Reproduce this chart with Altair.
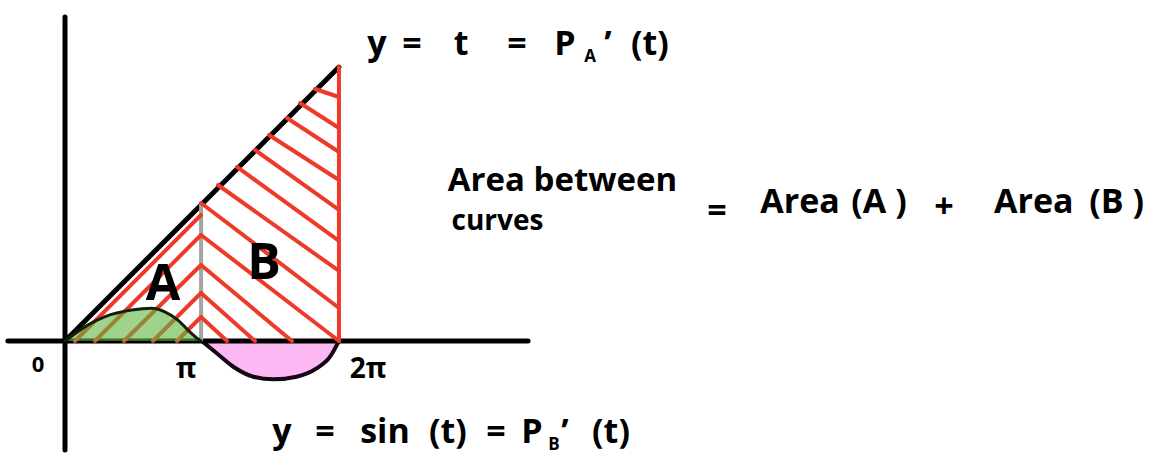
import altair as alt
import pandas as pd

# Page geometry: pixels per unit on both axes and where the origin sits
W, H = 1157, 468
PX_PER_UNIT = 43.6
ORIGIN_X, ORIGIN_Y = 65, 341
T_DOMAIN = [-ORIGIN_X / PX_PER_UNIT, (W - ORIGIN_X) / PX_PER_UNIT]
Y_DOMAIN = [(ORIGIN_Y - H) / PX_PER_UNIT, ORIGIN_Y / PX_PER_UNIT]

PI = 3.14159
TWO_PI = 6.28319

# Coordinate axes (horizontal, vertical)
axis_t0 = [-1.31, 0.0]
axis_y0 = [0.0, 7.43]
axis_t1 = [10.62, 0.0]
axis_y1 = [0.0, -2.50]

# The line y = t from 0 to 2*pi
diag_t0, diag_y0, diag_t1, diag_y1 = [0.0], [0.0], [TWO_PI], [TWO_PI]

# Hatching: region B (down-right strokes) then region A (up-right strokes)
hatch_t0 = [5.734, 5.390, 5.092, 4.679, 4.358, 3.945, 3.509, 3.119,
            3.119, 3.119, 3.119, 3.119,
            0.229, 0.688, 1.353, 2.018, 2.569]
hatch_y0 = [5.780, 5.459, 5.115, 4.725, 4.381, 3.991, 3.578, 3.165,
            2.431, 1.743, 1.101, 0.550,
            0.0, 0.0, 0.0, 0.0, 0.0]
hatch_t1 = [6.284, 6.284, 6.284, 6.284, 6.284, 6.284, 6.284, 6.284,
            6.284, 5.206, 4.358, 3.716,
            3.119, 3.119, 3.119, 3.119, 3.119]
hatch_y1 = [5.596, 4.885, 4.335, 3.693, 3.005, 2.294, 1.606, 0.757,
            0.0, 0.0, 0.0, 0.0,
            2.890, 2.431, 1.743, 1.101, 0.550]

# Green hump of sin(t) on [0, pi]
hump_t = [0.0, 0.53, 0.92, 1.53, 1.99, 2.29, 2.59, 2.82, 3.02, 3.12]
hump_y = [0.0, 0.37, 0.56, 0.71, 0.75, 0.67, 0.48, 0.25, 0.07, 0.0]

# Pink dip of sin(t) on [pi, 2*pi]
dip_t = [3.14, 3.48, 3.86, 4.32, 4.78, 5.31, 5.77, 6.08, 6.28]
dip_y = [0.0, -0.28, -0.59, -0.82, -0.88, -0.82, -0.63, -0.36, 0.0]

# Text tokens: string, centre t, baseline y, font size
label_text = ["y", "=", "t", "=", "P", "A", "\u2019", "(t)",
              "y", "=", "sin", "(t)", "=", "P", "B", "\u2019", "(t)",
              "Area between", "curves", "=", "Area", "(A )", "+", "Area", "(B )",
              "0", "\u03c0", "2\u03c0", "A", "B"]
label_t = [7.156, 7.959, 9.083, 10.367, 11.468, 12.041, 12.454, 13.417,
           4.977, 5.963, 7.339, 8.784, 9.885, 10.711, 11.216, 11.468, 12.523,
           11.41, 9.92, 14.954, 16.86, 18.67, 20.16, 22.22, 24.12,
           -0.619, 2.775, 6.950, 2.248, 4.564]
label_y = [6.560, 6.560, 6.560, 6.560, 6.560, 6.399, 6.560, 6.560,
           -2.339, -2.339, -2.339, -2.339, -2.339, -2.339, -2.50, -2.339, -2.339,
           3.430, 2.535, 2.729, 2.936, 2.936, 2.821, 2.936, 2.936,
           -0.711, -0.849, -0.849, 0.940, 1.422]
label_size = [34, 34, 34, 34, 34, 17, 34, 34,
              34, 34, 34, 34, 34, 34, 17, 34, 34,
              33, 28, 34, 34, 34, 34, 34, 34,
              22, 28, 28, 50, 50]

xs = alt.Scale(domain=T_DOMAIN, nice=False, zero=False)
ys = alt.Scale(domain=Y_DOMAIN, nice=False, zero=False)


def segments(t0, y0, t1, y1, color, width, cap="round"):
    df = pd.DataFrame({"t0": t0, "y0": y0, "t1": t1, "y1": y1})
    return alt.Chart(df).mark_rule(color=color, strokeWidth=width, strokeCap=cap).encode(
        x=alt.X("t0:Q", scale=xs, axis=None),
        y=alt.Y("y0:Q", scale=ys, axis=None),
        x2="t1:Q",
        y2="y1:Q",
    )


hump_df = pd.DataFrame({"t": hump_t, "y": hump_y, "base": [0.0] * len(hump_t)})
dip_df = pd.DataFrame({"t": dip_t, "y": dip_y, "base": [0.0] * len(dip_t)})

enc_curve = dict(
    x=alt.X("t:Q", scale=xs, axis=None),
    y=alt.Y("y:Q", scale=ys, axis=None),
)

dip_fill = alt.Chart(dip_df).mark_area(color="#fcb8f3", interpolate="monotone").encode(
    y2="base:Q", **enc_curve
)
dip_edge = alt.Chart(dip_df).mark_line(
    color="#140814", strokeWidth=4, interpolate="monotone", strokeCap="round"
).encode(**enc_curve)

axes = segments(axis_t0, axis_y0, axis_t1, axis_y1, "#000000", 5)
diag = segments(diag_t0, diag_y0, diag_t1, diag_y1, "#000000", 5)
gray = segments([PI - 0.02], [0.0], [PI - 0.02], [PI], "#a4a4a4", 4, cap="butt")
hatch = segments(hatch_t0, hatch_y0, hatch_t1, hatch_y1, "#ee3a2b", 4)
red_side = segments([TWO_PI], [0.0], [TWO_PI], [TWO_PI], "#ee3a2b", 4)

hump_fill = alt.Chart(hump_df).mark_area(
    color="#5fb63f", fillOpacity=0.6, interpolate="monotone"
).encode(y2="base:Q", **enc_curve)
hump_edge = alt.Chart(hump_df).mark_line(
    color="#10200a", strokeWidth=3, interpolate="monotone", strokeCap="round"
).encode(**enc_curve)

labels_df = pd.DataFrame({"text": label_text, "t": label_t, "y": label_y, "size": label_size})
labels = alt.Chart(labels_df).mark_text(
    font="Open Sans", fontWeight="bold", color="#000000", align="center", baseline="alphabetic"
).encode(
    x=alt.X("t:Q", scale=xs, axis=None),
    y=alt.Y("y:Q", scale=ys, axis=None),
    text="text:N",
    size=alt.Size("size:Q", scale=None, legend=None),
)

chart = alt.layer(
    dip_fill, dip_edge, axes, diag, gray, hatch, red_side, hump_fill, hump_edge, labels
).properties(
    width=W, height=H, autosize=alt.AutoSizeParams(type="none"), padding=0,
    background="#ffffff",
).configure_view(stroke=None)

chart.save("out.html", embed_options={"renderer": "svg", "actions": False})
